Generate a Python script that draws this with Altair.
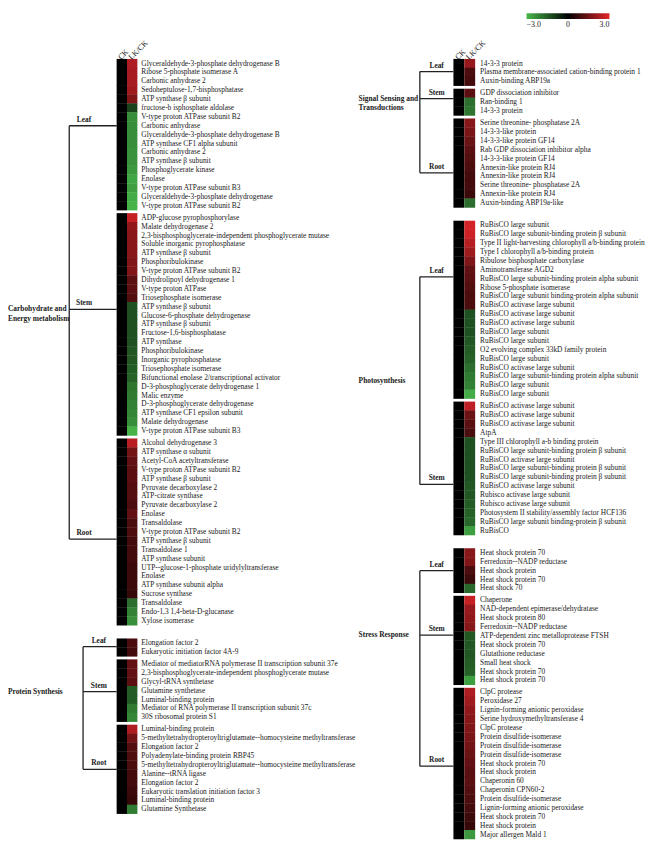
import altair as alt
import pandas as pd

# ---------------- data ----------------
CARB_LEAF = ["Glyceraldehyde-3-phosphate dehydrogenase B", "Ribose 5-phosphate isomerase A", "Carbonic anhydrase 2",
             "Sedoheptulose-1,7-bisphosphatase", "ATP synthase β subunit", "fructose-b isphosphate aldolase",
             "V-type proton ATPase subunit B2", "Carbonic anhydrase", "Glyceraldehyde-3-phosphate dehydrogenase B",
             "ATP synthase CF1 alpha subunit", "Carbonic anhydrase 2", "ATP synthase β subunit",
             "Phosphoglycerate kinase", "Enolase", "V-type proton ATPase subunit B3",
             "Glyceraldehyde-3-phosphate dehydrogenase", "V-type proton ATPase subunit B2"]
CARB_LEAF_LR = [2.3, 2.2, 2.2, 2.1, 1.7, -1.1, -2.3, -2.3, -2.3, -2.3, -2.4, -2.4, -2.5, -2.7, -2.6, -2.8, -2.9]

CARB_STEM = ["ADP-glucose pyrophosphorylase", "Malate dehydrogenase 2",
             "2,3-bisphosphoglycerate-independent phosphoglycerate mutase", "Soluble inorganic pyrophosphatase",
             "ATP synthase β subunit", "Phosphoribulokinase", "V-type proton ATPase subunit B2",
             "Dihydrolipoyl dehydrogenase 1", "V-type proton ATPase", "Triosephosphate isomerase",
             "ATP synthase β subunit", "Glucose-6-phosphate dehydrogenase", "ATP synthase   β subunit",
             "Fructose-1,6-bisphosphatase", "ATP synthase", "Phosphoribulokinase", "Inorganic pyrophosphatase",
             "Triosephosphate isomerase", "Bifunctional enolase 2/transcriptional activator",
             "D-3-phosphoglycerate dehydrogenase 1", "Malic enzyme", "D-3-phosphoglycerate dehydrogenase",
             "ATP synthase CF1 epsilon subunit", "Malate dehydrogenase", "V-type proton ATPase subunit B3"]
CARB_STEM_LR = [2.6, 1.9, 1.8, 1.8, 1.8, 1.7, 1.7, 1.2, 1.2, 1.1, -1.3, -1.3, -1.3, -1.3, -1.3, -1.4, -1.4,
                -1.5, -1.6, -1.9, -2.0, -2.1, -2.2, -2.3, -2.9]

CARB_ROOT = ["Alcohol dehydrogenase 3", "ATP synthase α subunit", "Acetyl-CoA acetyltransferase",
             "V-type proton ATPase subunit B2", "ATP synthase β subunit", "Pyruvate decarboxylase 2",
             "ATP-citrate synthase", "Pyruvate decarboxylase 2", "Enolase", "Transaldolase",
             "V-type proton ATPase subunit B2", "ATP synthase β subunit", "Transaldolase 1",
             "ATP synthase subunit", "UTP--glucose-1-phosphate uridylyltransferase", "Enolase",
             "ATP synthase subunit alpha", "Sucrose synthase", "Transaldolase", "Endo-1,3 1,4-beta-D-glucanase",
             "Xylose isomerase"]
CARB_ROOT_LR = [2.4, 1.5, 1.3, 1.2, 1.2, 1.1, 1.1, 1.0, 1.3, 1.0, 1.0, 0.9, 0.9, 0.9, 0.8, 0.8, 0.8, 0.7,
                -1.8, -2.1, -2.3]

PROT_LEAF = ["Elongation factor 2", "Eukaryotic initiation factor 4A-9"]
PROT_LEAF_LR = [1.0, 0.9]

PROT_STEM = ["Mediator of mediatorRNA polymerase II transcription subunit 37e",
             "2,3-bisphosphoglycerate-independent phosphoglycerate mutase", "Glycyl-tRNA synthetase",
             "Glutamine synthetase", "Luminal-binding protein",
             "Mediator of RNA polymerase II transcription subunit 37c", "30S ribosomal protein S1"]
PROT_STEM_LR = [1.3, 1.3, 1.2, -1.5, -1.5, -2.0, -2.2]

PROT_ROOT = ["Luminal-binding protein",
             "5-methyltetrahydropteroyltriglutamate--homocysteine methyltransferase", "Elongation factor 2",
             "Polyadenylate-binding protein RBP45",
             "5-methyltetrahydropteroyltriglutamate--homocysteine methyltransferase", "Alanine--tRNA ligase",
             "Elongation factor 2", "Eukaryotic translation initiation factor 3", "Luminal-binding protein",
             "Glutamine Synthetase"]
PROT_ROOT_LR = [2.3, 1.5, 1.1, 1.0, 1.0, 0.9, 0.9, 0.8, 0.7, -2.0]

SIG_LEAF = ["14-3-3 protein", "Plasma membrane-associated cation-binding protein 1", "Auxin-binding ABP19a"]
SIG_LEAF_LR = [2.0, 1.0, 0.9]

SIG_STEM = ["GDP dissociation inhibitor", "Ran-binding 1", "14-3-3 protein"]
SIG_STEM_LR = [1.2, -1.8, -1.9]

SIG_ROOT = ["Serine threonine- phosphatase 2A", "14-3-3-like protein", "14-3-3-like protein GF14",
            "Rab GDP dissociation inhibitor alpha", "14-3-3-like protein GF14", "Annexin-like protein RJ4",
            "Annexin-like protein RJ4", "Serine threonine- phosphatase 2A", "Annexin-like protein RJ4",
            "Auxin-binding ABP19a-like"]
SIG_ROOT_LR = [1.8, 1.6, 1.4, 1.2, 1.1, 1.0, 0.9, 0.9, 0.8, -1.8]

PHOTO_LEAF = ["RuBisCO large subunit", "RuBisCO large subunit-binding protein  β subunit",
              "Type II light-harvesting chlorophyll a/b-binding protein", "Type I  chlorophyll a/b-binding protein",
              "Ribulose bisphosphate carboxylase", "Aminotransferase AGD2",
              "RuBisCO large subunit-binding protein alpha subunit", "Ribose 5-phosphate isomerase",
              "RuBisCO large subunit binding-protein alpha subunit", "RuBisCO activase large subunit",
              "RuBisCO activase large subunit", "RuBisCO activase large subunit", "RuBisCO large subunit",
              "RuBisCO large subunit", "O2 evolving complex 33kD family protein", "RuBisCO large subunit",
              "RuBisCO activase large subunit", "RuBisCO large subunit-binding protein alpha subunit",
              "RuBisCO large subunit", "RuBisCO large subunit"]
PHOTO_LEAF_LR = [2.8, 2.7, 2.4, 2.1, 1.7, 1.3, 1.2, 1.1, 1.0, 1.0, -1.3, -1.3, -1.3, -1.4, -1.5, -1.6, -1.8,
                 -2.0, -2.1, -2.8]

PHOTO_STEM = ["RuBisCO activase large  subunit", "RuBisCO activase large subunit", "RuBisCO activase large subunit",
              "AtpA", "Type III chlorophyll a-b binding protein", "RuBisCO large subunit-binding protein β subunit",
              "RuBisCO activase large subunit", "RuBisCO large subunit-binding protein β subunit",
              "RuBisCO large subunit-binding protein β subunit", "RuBisCO activase large subunit",
              "Rubisco activase large subunit", "Rubisco activase large subunit",
              "Photosystem II stability/assembly factor HCF136",
              "RuBisCO large subunit binding-protein  β  subunit", "RuBisCO"]
PHOTO_STEM_LR = [2.5, 1.4, 1.2, 1.0, -1.3, -1.3, -1.3, -1.3, -1.3, -1.4, -1.4, -1.5, -1.6, -1.7, -2.6]

STRESS_LEAF = ["Heat shock protein 70", "Ferredoxin--NADP reductase", "Heat shock protein",
               "Heat shock protein 70", "Heat shock 70"]
STRESS_LEAF_LR = [1.8, 1.7, 1.0, 0.8, -1.7]

STRESS_STEM = ["Chaperone", "NAD-dependent epimerase/dehydratase", "Heat shock  protein 80",
               "Ferredoxin--NADP reductase", "ATP-dependent zinc metalloprotease FTSH", "Heat shock  protein 70",
               "Glutathione reductase", "Small heat shock", "Heat shock  protein 70", "Heat shock  protein 70"]
STRESS_STEM_LR = [2.6, 2.0, 1.9, 1.8, -1.4, -1.4, -1.4, -1.5, -1.6, -2.6]

STRESS_ROOT = ["ClpC protease", "Peroxidase 27", "Lignin-forming anionic peroxidase",
               "Serine hydroxymethyltransferase 4", "ClpC protease", "Protein disulfide-isomerase",
               "Protein disulfide-isomerase", "Protein disulfide-isomerase", "Heat shock protein 70",
               "Heat shock protein", "Chaperonin 60", "Chaperonin CPN60-2", "Protein disulfide-isomerase",
               "Lignin-forming anionic peroxidase", "Heat shock  protein 70", "Heat shock protein",
               "Major allergen Mald 1"]
STRESS_ROOT_LR = [2.3, 2.1, 1.9, 1.8, 1.7, 1.6, 1.5, 1.4, 1.3, 1.2, 1.2, 1.1, 1.0, 0.9, 0.8, 0.7, -2.5]

COLUMNS = ["CK", "LK/CK"]
TISSUES = ["Leaf", "Stem", "Root"]

LEFT = [("Carbohydrate and\nEnergy metabolism",
         [(CARB_LEAF, CARB_LEAF_LR), (CARB_STEM, CARB_STEM_LR), (CARB_ROOT, CARB_ROOT_LR)]),
        ("Protein Synthesis",
         [(PROT_LEAF, PROT_LEAF_LR), (PROT_STEM, PROT_STEM_LR), (PROT_ROOT, PROT_ROOT_LR)])]
RIGHT = [("Signal Sensing and\nTransductions",
          [(SIG_LEAF, SIG_LEAF_LR), (SIG_STEM, SIG_STEM_LR), (SIG_ROOT, SIG_ROOT_LR)]),
         ("Photosynthesis",
          [(PHOTO_LEAF, PHOTO_LEAF_LR), (PHOTO_STEM, PHOTO_STEM_LR)]),
         ("Stress Response",
          [(STRESS_LEAF, STRESS_LEAF_LR), (STRESS_STEM, STRESS_STEM_LR), (STRESS_ROOT, STRESS_ROOT_LR)])]

# ---------------- layout constants ----------------
FONT = "Liberation Serif"
W, H = 648, 837
RH = 9.0           # px per row
Y_FIRST = 51.0     # px of first row centre (chart coords)
SUB_GAP = 0.35
CAT_GAP = 1.5
INK = "#1a1a1a"
# row (within each block) where the dendrogram branch attaches, per category / block
LEFT_ATTACH = [[7.0, 10.3, 10.8], [0.4, 3.1, 4.5]]
RIGHT_ATTACH = [[0.9, 0.6, 5.6], [5.8, 8.8], [2.0, 3.9, 8.3]]


def build(cats, attach):
    cells, blocks, groups = [], [], []
    pos = 0.0
    for ci, (cat, blks) in enumerate(cats):
        if ci > 0:
            pos += CAT_GAP
        anchors = []
        for bi, (names, vals) in enumerate(blks):
            if bi > 0:
                pos += SUB_GAP
            start = pos
            for n, v in zip(names, vals):
                for col, val in zip(COLUMNS, [0.0, v]):
                    cells.append(dict(cat=cat, tissue=TISSUES[bi], name=n, col=col, value=val,
                                      pos=pos, y0=pos - 0.52, y1=pos + 0.52))
                pos += 1
            a = start + attach[ci][bi]
            blocks.append(dict(cat=cat, tissue=TISSUES[bi], center=a))
            anchors.append(a)
        mid = anchors[len(anchors) // 2] if len(anchors) % 2 else (anchors[0] + anchors[-1]) / 2
        groups.append(dict(cat=cat, top=anchors[0], bottom=anchors[-1], mid=mid))
    return pd.DataFrame(cells), pd.DataFrame(blocks), pd.DataFrame(groups)


yscale = alt.Scale(domain=[-Y_FIRST / RH, (H - Y_FIRST) / RH], reverse=True, nice=False, zero=False)
cscale = alt.Scale(domain=[-3, 0, 3], range=["#48b84b", "#000000", "#e3262b"], interpolate="rgb", clamp=True)
Y = lambda f: alt.Y(f, scale=yscale, axis=None)


def heat(cells, x0, x1, legend):
    xs = alt.Scale(domain=COLUMNS, range=[x0, x1], paddingInner=0, paddingOuter=0)
    rect = alt.Chart(cells).mark_rect().encode(
        x=alt.X("col:N", scale=xs, axis=None),
        y=Y("y0:Q"), y2="y1:Q",
        color=alt.Color("value:Q", scale=cscale, legend=legend, title=None))
    hdr = alt.Chart(pd.DataFrame({"col": COLUMNS})).mark_text(
        angle=315, align="left", baseline="middle", font=FONT, fontSize=8, color=INK, dx=-3
    ).encode(x=alt.X("col:N", scale=xs, axis=None), y=alt.value(44), text="col:N")
    return alt.layer(rect, hdr)


def names_layer(cells, x):
    d = cells[cells["col"] == "LK/CK"]
    return alt.Chart(d).mark_text(align="left", baseline="middle", font=FONT, fontSize=7.5, color=INK).encode(
        x=alt.value(x), y=Y("pos:Q"), text="name:N")


def bracket(blocks, groups, cat, vx, hx, tx, lx, label_align="left"):
    b = blocks[blocks["cat"] == cat]
    g = groups[groups["cat"] == cat]
    h = alt.Chart(b).mark_rule(color="#222", strokeWidth=1.3).encode(
        x=alt.value(vx), x2=alt.value(hx), y=Y("center:Q"))
    v = alt.Chart(g).mark_rule(color="#222", strokeWidth=1.3).encode(
        x=alt.value(vx), y=Y("top:Q"), y2="bottom:Q")
    t = alt.Chart(b).mark_text(align="center", baseline="bottom", font=FONT, fontSize=7.5,
                               fontWeight="bold", color=INK, dy=-2).encode(
        x=alt.value(tx), y=Y("center:Q"), text="tissue:N")
    c = alt.Chart(g).mark_text(align=label_align, baseline="middle", font=FONT, fontSize=7.5,
                               fontWeight="bold", color=INK, lineBreak="\n", lineHeight=9.5).encode(
        x=alt.value(lx), y=Y("mid:Q"), text="cat:N")
    return [h, v, t, c]


lc, lb, lg = build(LEFT, LEFT_ATTACH)
rc, rb, rg = build(RIGHT, RIGHT_ATTACH)

legend = alt.Legend(orient="none", legendX=525, legendY=0, direction="horizontal", gradientLength=84,
                    gradientThickness=6, values=[-3, 0, 3],
                    labelExpr="datum.value == 0 ? '0' : format(datum.value, '.1f')",
                    labelFont=FONT, labelFontSize=8, labelColor=INK, labelOffset=2, gradientStrokeWidth=0)

layers = [heat(lc, 110, 131, legend), heat(rc, 451, 473, None),
          names_layer(lc, 135), names_layer(rc, 478)]
layers += bracket(lb, lg, LEFT[0][0], 62, 110, 77, 0)
layers += bracket(lb, lg, LEFT[1][0], 76, 110, 92, 0)
for cat, _ in RIGHT:
    layers += bracket(rb, rg, cat, 417, 451, 434, 355)

chart = alt.layer(*layers).resolve_scale(x="independent").properties(
    width=W, height=H, padding=0, autosize=alt.AutoSizeParams(type="none")
).configure_view(stroke=None)

chart.save("out.html", embed_options={"renderer": "svg", "actions": False})
